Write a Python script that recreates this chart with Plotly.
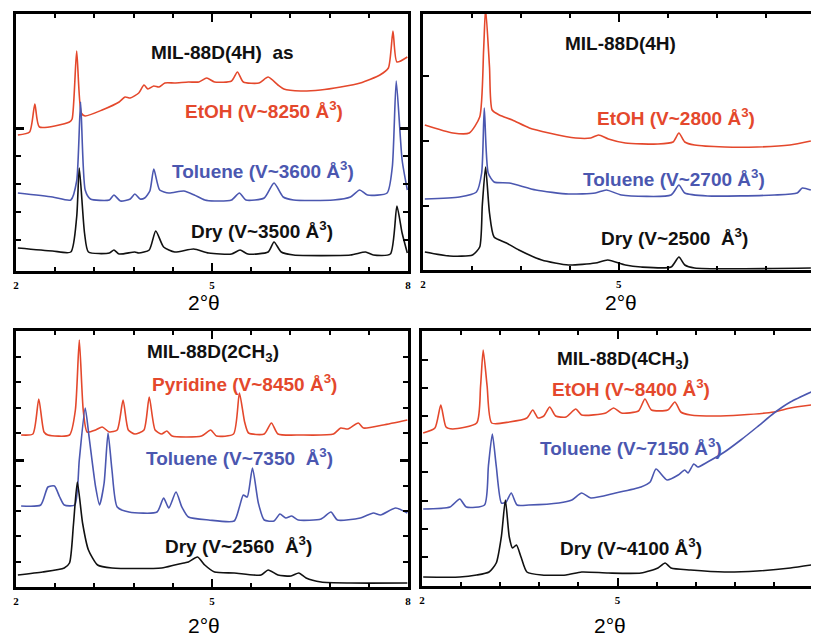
import plotly.graph_objects as go

# ---------------- data (2θ in degrees, intensity in arbitrary units) ----------------
# Panel A: MIL-88D(4H) as
TL_ETOH_X = [2.03, 2.21, 2.29, 2.36, 2.82, 2.86, 2.93, 3.00, 3.06, 3.32, 3.58, 3.67, 3.75, 3.88, 3.96, 4.02, 4.11, 4.19, 4.28,
             4.43, 4.64, 4.80, 4.92, 5.04, 5.30, 5.39, 5.48, 5.72, 5.86, 6.01, 6.10, 6.36, 6.66, 6.97, 7.27, 7.57, 7.70,
             7.77, 7.83, 7.99]
TL_ETOH_Y = [136, 139, 167, 144, 149, 152, 220, 158, 155, 161, 169, 174, 173, 178, 186, 182, 185, 184, 188,
             188, 189, 189, 193, 189, 190, 199, 189, 188, 194, 186, 182, 180, 181, 184, 188, 196, 203,
             240, 209, 214]
TL_TOL_X = [2.03, 2.56, 2.84, 2.93, 2.99, 3.06, 3.14, 3.43, 3.50, 3.60, 3.75, 3.82, 3.90, 3.97, 4.05, 4.11, 4.20, 4.34,
            4.57, 4.73, 4.89, 5.04, 5.30, 5.42, 5.52, 5.80, 5.95, 6.09, 6.25, 6.86, 7.12, 7.26, 7.38, 7.68, 7.76,
            7.82, 7.91, 7.99]
TL_TOL_Y = [78, 74, 71, 90, 169, 81, 72, 71, 76, 70, 72, 77, 72, 73, 80, 102, 81, 78,
            80, 76, 71, 70, 71, 78, 71, 73, 88, 74, 71, 71, 74, 81, 76, 78, 104,
            190, 111, 81]
TL_DRY_X = [2.03, 2.56, 2.84, 2.93, 2.97, 3.05, 3.11, 3.43, 3.50, 3.58, 3.82, 3.88, 4.04, 4.14, 4.26, 4.43, 4.72, 4.95,
            5.30, 5.43, 5.55, 5.86, 5.95, 6.06, 6.25, 7.12, 7.35, 7.47, 7.73, 7.83, 7.91, 7.99]
TL_DRY_Y = [23, 20, 19, 54, 103, 38, 19, 18, 21, 17, 19, 18, 21, 40, 24, 19, 22, 18,
            17, 21, 17, 19, 29, 19, 16, 16, 19, 16, 17, 65, 38, 18]

# Panel B: MIL-88D(4H)
TR_ETOH_X = [2.03, 2.46, 2.71, 2.87, 2.93, 2.96, 3.02, 3.06, 3.17, 3.37, 3.63, 3.93, 4.34, 4.57, 4.69, 4.84, 5.10,
             5.60, 5.83, 5.92, 6.01, 6.16, 6.62, 7.12, 7.62, 7.94]
TR_ETOH_Y = [145, 137, 137, 153, 220, 262, 203, 160, 155, 150, 142, 137, 132, 132, 135, 131, 127,
             126, 128, 137, 128, 125, 123, 123, 125, 129]
TR_TOL_X = [2.03, 2.56, 2.82, 2.90, 2.94, 3.00, 3.09, 3.32, 3.73, 4.23, 4.64, 4.81, 5.04, 5.80, 5.92, 6.01, 6.36,
            7.38, 7.73, 7.81, 7.94]
TR_TOL_Y = [71, 73, 78, 97, 162, 97, 88, 87, 80, 76, 77, 80, 75, 75, 85, 77, 74,
            75, 77, 82, 80]
TR_DRY_X = [2.03, 2.41, 2.76, 2.87, 2.91, 2.96, 3.02, 3.09, 3.28, 3.47, 3.82, 4.23, 4.64, 4.83, 5.10, 5.34, 5.80,
            5.92, 6.01, 6.16, 7.94]
TR_DRY_Y = [18, 14, 15, 23, 65, 103, 57, 33, 27, 20, 10, 5, 7, 10, 5, 3, 3,
            13, 5, 2, 2]

# Panel C: MIL-88D(2CH3)
BL_PYR_X = [2.08, 2.26, 2.35, 2.43, 2.49, 2.82, 2.91, 2.97, 3.03, 3.09, 3.22, 3.32, 3.43, 3.55, 3.64, 3.72, 3.82,
            3.96, 4.04, 4.13, 4.23, 4.31, 4.39, 4.84, 4.98, 5.07, 5.33, 5.42, 5.50, 5.56, 5.80, 5.91, 6.01, 6.36,
            6.86, 6.97, 7.08, 7.24, 7.32, 7.62, 7.99]
BL_PYR_Y = [152, 153, 188, 155, 152, 152, 177, 247, 177, 155, 157, 160, 155, 157, 187, 157, 153,
            157, 190, 157, 153, 156, 151, 151, 157, 151, 153, 194, 165, 154, 153, 164, 153, 152,
            153, 159, 158, 164, 159, 162, 167]
BL_TOL_X = [2.08, 2.38, 2.49, 2.59, 2.67, 2.74, 2.90, 2.97, 3.06, 3.12, 3.22, 3.28, 3.35, 3.41, 3.47, 3.55, 3.73,
            4.16, 4.26, 4.34, 4.45, 4.54, 4.64, 4.95, 5.34, 5.42, 5.48, 5.54, 5.62, 5.71, 5.80, 5.95, 6.04, 6.13,
            6.22, 6.32, 6.67, 6.82, 6.92, 7.27, 7.47, 7.58, 7.81, 7.99]
BL_TOL_Y = [81, 82, 100, 101, 90, 82, 82, 127, 179, 150, 100, 82, 104, 154, 117, 80, 75,
            75, 89, 79, 95, 80, 70, 67, 66, 80, 92, 90, 119, 84, 67, 66, 73, 69,
            71, 67, 68, 75, 67, 69, 74, 72, 79, 74]
BL_DRY_X = [2.03, 2.41, 2.74, 2.82, 2.88, 2.94, 3.02, 3.11, 3.25, 3.47, 4.23, 4.43, 4.57, 4.64, 4.78, 4.89, 5.04,
            5.34, 5.75, 5.86, 6.01, 6.21, 6.33, 6.44, 6.67, 7.12, 7.99]
BL_DRY_Y = [12, 15, 19, 24, 62, 105, 64, 37, 22, 19, 19, 22, 24, 25, 30, 22, 15,
            14, 12, 17, 12, 11, 14, 9, 5, 4, 4]

# Panel D: MIL-88D(4CH3)
BR_ETOH_X = [2.02, 2.20, 2.29, 2.37, 2.47, 2.84, 2.90, 2.94, 3.00, 3.07, 3.34, 3.61, 3.70, 3.78, 3.87, 3.96, 4.05,
             4.21, 4.36, 4.45, 4.82, 4.94, 5.06, 5.32, 5.42, 5.52, 5.77, 5.88, 5.97, 6.12, 6.49, 6.89, 7.40, 7.65, 7.97]
BR_ETOH_Y = [153, 158, 181, 159, 157, 163, 200, 236, 200, 163, 164, 168, 176, 168, 170, 179, 170,
             169, 177, 171, 173, 178, 173, 175, 187, 176, 176, 184, 174, 171, 170, 171, 174, 178, 181]
BR_TOL_X = [2.02, 2.43, 2.58, 2.68, 2.96, 3.02, 3.08, 3.14, 3.22, 3.29, 3.37, 3.46, 3.64, 4.10, 4.30, 4.45, 4.59,
            4.97, 5.36, 5.50, 5.59, 5.76, 5.93, 6.03, 6.08, 6.17, 6.23, 6.38, 6.64, 6.89, 7.14, 7.40, 7.65, 7.97]
BR_TOL_Y = [77, 79, 87, 79, 81, 120, 152, 120, 83, 84, 93, 81, 81, 83, 86, 93, 88,
            93, 99, 104, 117, 106, 111, 116, 113, 122, 119, 124, 134, 146, 159, 173, 184, 194]
BR_DRY_X = [2.02, 2.58, 2.84, 3.03, 3.14, 3.22, 3.28, 3.34, 3.39, 3.45, 3.52, 3.61, 3.84, 4.21, 4.45, 4.86, 5.36,
            5.62, 5.73, 5.82, 6.12, 6.64, 7.14, 7.65, 7.97]
BR_DRY_Y = [9, 9, 11, 14, 23, 50, 86, 49, 38, 41, 29, 14, 11, 11, 14, 13, 13,
            18, 23, 18, 16, 14, 15, 18, 21]

X_TICK_LABELS = ["2", "5", "8"]
X_TICK_VALUES = [2, 5, 8]
AXIS_TITLE = "2°θ"

# ---------------- style ----------------
RED = "#E4482C"
BLUE = "#4B57B0"
BLACK = "#111111"
W, H = 814, 636
LW = 1.6


def hdom(a, b):
    return [a / W, b / W]


def vdom(top, bottom):
    return [1 - bottom / H, 1 - top / H]


fig = go.Figure()

panels = [
    ("", [(TL_ETOH_X, TL_ETOH_Y, RED), (TL_TOL_X, TL_TOL_Y, BLUE), (TL_DRY_X, TL_DRY_Y, BLACK)],
     (13, 408), (14, 271), [2, 8], [0, 257], [2.6, 3.2, 3.8, 4.4, 5.6, 6.2, 6.8, 7.4], [143], [31, 59, 87, 115], True),
    ("2", [(TR_ETOH_X, TR_ETOH_Y, RED), (TR_TOL_X, TR_TOL_Y, BLUE), (TR_DRY_X, TR_DRY_Y, BLACK)],
     (423, 814), (14, 270), [2, 2 + 391 / 65.8], [0, 256], [2.75, 3.5, 4.25, 5.75, 6.5, 7.25], [], [64, 129, 194], False),
    ("3", [(BL_PYR_X, BL_PYR_Y, RED), (BL_TOL_X, BL_TOL_Y, BLUE), (BL_DRY_X, BL_DRY_Y, BLACK)],
     (13, 408), (331, 587), [2, 8], [0, 256], [2.6, 3.2, 3.8, 4.4, 5.6, 6.2, 6.8, 7.4], [127],
     [25, 51, 76, 101, 154, 179, 205, 230], True),
    ("4", [(BR_ETOH_X, BR_ETOH_Y, RED), (BR_TOL_X, BR_TOL_Y, BLUE), (BR_DRY_X, BR_DRY_Y, BLACK)],
     (422, 814), (331, 586), [2, 2 + 392 / 65.7], [0, 255], [2.6, 3.2, 3.8, 4.4, 5.6, 6.2, 6.8, 7.4], [],
     [29, 57, 85, 114, 143, 170, 198, 226], False),
]

layout_axes = {}
for suf, traces, xd, yd, xr, yr, xminor, ymaj, ymin, rborder in panels:
    for xs, ys, col in traces:
        fig.add_trace(go.Scatter(x=xs, y=ys, mode="lines",
                                 line=dict(color=col, width=LW, shape="spline", smoothing=0.6),
                                 xaxis="x" + suf, yaxis="y" + suf, showlegend=False, hoverinfo="skip"))
    layout_axes["xaxis" + suf] = dict(
        domain=hdom(*xd), range=xr, anchor="y" + suf,
        showline=True, linewidth=3, linecolor="black", mirror="ticks",
        ticks="inside", ticklen=8, tickwidth=2, tickcolor="black",
        tickvals=X_TICK_VALUES, ticktext=X_TICK_LABELS, ticklabelstandoff=2,
        tickfont=dict(family="Liberation Serif", size=11, color="black", weight="bold"),
        showgrid=False, zeroline=False,
        minor=dict(tickvals=xminor, ticks="inside", ticklen=4, tickwidth=1.5, tickcolor="black", showgrid=False),
    )
    layout_axes["yaxis" + suf] = dict(
        domain=vdom(*yd), range=yr, anchor="x" + suf,
        showline=True, linewidth=3, linecolor="black", mirror="ticks" if rborder else False,
        ticks="inside", ticklen=8, tickwidth=2.5, tickcolor="black",
        tickvals=ymaj, showticklabels=False, showgrid=False, zeroline=False,
        minor=dict(tickvals=ymin, ticks="inside", ticklen=6 if not rborder else 5, tickwidth=2,
                   tickcolor="black", showgrid=False),
    )

NB = "\u00a0"
labels = [
    ("MIL-88D(4H)" + NB + NB + "as", BLACK, 5.16, 219, ""),
    ("EtOH (V~8250 Å<sup>3</sup>)", RED, 5.80, 161, ""),
    ("Toluene (V~3600 Å<sup>3</sup>)", BLUE, 5.78, 101, ""),
    ("Dry (V~3500 Å<sup>3</sup>)", BLACK, 5.77, 41, ""),
    ("MIL-88D(4H)", BLACK, 5.02, 227, "2"),
    ("EtOH (V~2800 Å<sup>3</sup>)", RED, 5.88, 153, "2"),
    ("Toluene (V~2700 Å<sup>3</sup>)", BLUE, 5.85, 92, "2"),
    ("Dry (V~2500" + NB + NB + "Å<sup>3</sup>)", BLACK, 5.85, 33, "2"),
    ("MIL-88D(2CH<sub>3</sub>)", BLACK, 5.02, 234, "3"),
    ("Pyridine (V~8450 Å<sup>3</sup>)", RED, 5.50, 204, "3"),
    ("Toluene (V~7350" + NB + NB + "Å<sup>3</sup>)", BLUE, 5.42, 130, "3"),
    ("Dry (V~2560" + NB + NB + "Å<sup>3</sup>)", BLACK, 5.40, 42, "3"),
    ("MIL-88D(4CH<sub>3</sub>)", BLACK, 5.09, 226, "4"),
    ("EtOH (V~8400 Å<sup>3</sup>)", RED, 5.20, 198, "4"),
    ("Toluene (V~7150 Å<sup>3</sup>)", BLUE, 5.21, 139, "4"),
    ("Dry (V~4100 Å<sup>3</sup>)", BLACK, 5.20, 39, "4"),
]
annotations = []
for txt, col, x, y, suf in labels:
    annotations.append(dict(text=txt, x=x, y=y, xref="x" + suf, yref="y" + suf, showarrow=False,
                            font=dict(family="Liberation Sans, Arial", size=19, color=col, weight="bold"),
                            xanchor="center", yanchor="middle"))

for cx, cy in [(202, 303), (623, 303), (202, 625), (612, 625)]:
    annotations.append(dict(text=AXIS_TITLE, x=cx / W, y=1 - cy / H, xref="paper", yref="paper",
                            showarrow=False, xanchor="center", yanchor="middle",
                            font=dict(family="Liberation Sans, Arial", size=21, color="black")))

fig.update_layout(
    width=W, height=H, margin=dict(l=0, r=0, t=0, b=0),
    paper_bgcolor="white", plot_bgcolor="white",
    showlegend=False, annotations=annotations, **layout_axes,
)

fig.write_html("out.html", config={"displayModeBar": False},
               post_script="document.body.style.margin='0';document.body.style.overflow='hidden';")
